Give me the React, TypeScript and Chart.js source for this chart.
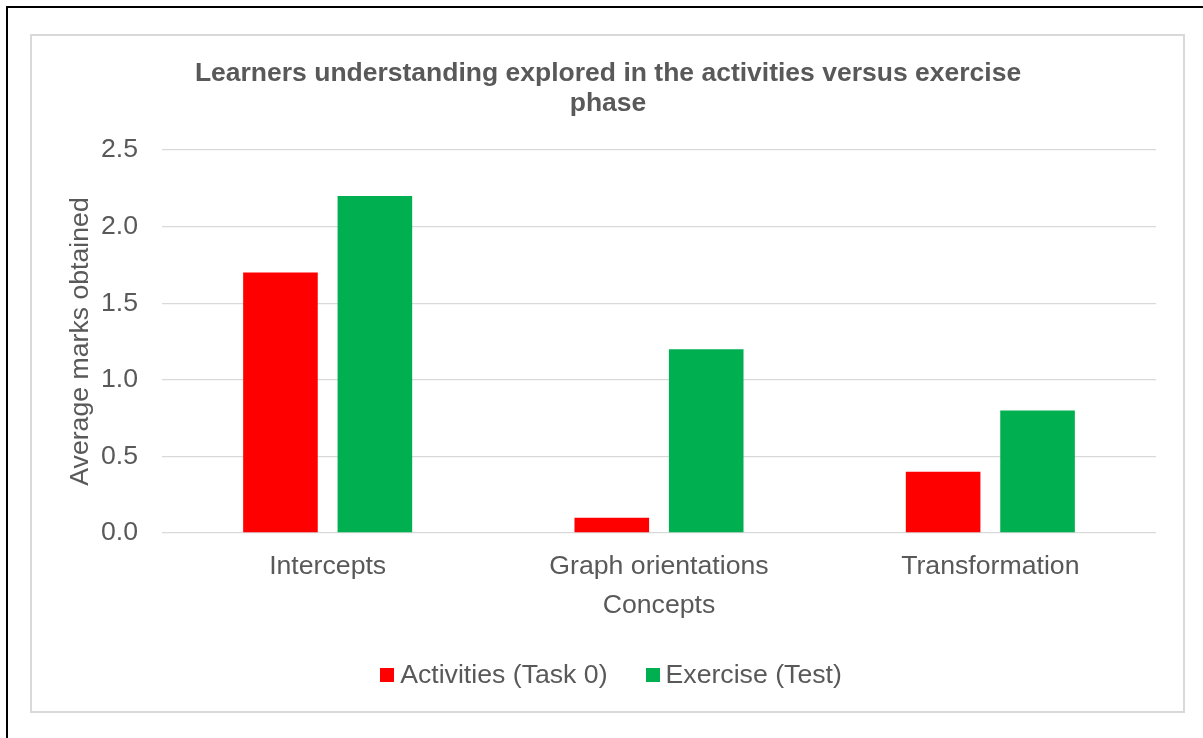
import React, { useEffect, useRef } from "react";
import { Chart, registerables } from "chart.js";

Chart.register(...registerables);

const categories = ["Intercepts", "Graph orientations", "Transformation"];
const activitiesValues = [1.7, 0.1, 0.4];
const exerciseValues = [2.2, 1.2, 0.8];
const seriesLabels = ["Activities (Task 0)", "Exercise (Test)"];
const seriesColors = ["#FF0000", "#00B050"];
const titleLines = [
  "Learners understanding explored in the activities versus exercise",
  "phase",
];
const yAxisTitle = "Average marks obtained";
const xAxisTitle = "Concepts";

const FONT = "'Liberation Sans', Arial, sans-serif";
const TEXT = "#595959";
const GRID = "#d9d9d9";
const FS = 26.67;

const legendPlugin = {
  id: "customLegend",
  afterDraw(chart: any) {
    const ctx = chart.ctx;
    const ds = chart.data.datasets;
    const box = 14;
    const gap = 6;
    const itemGap = 38;
    ctx.save();
    ctx.font = `${FS}px ${FONT}`;
    const widths = ds.map((d: any) => ctx.measureText(d.label).width);
    let total = 0;
    widths.forEach((w: number, i: number) => {
      total += box + gap + w + (i < widths.length - 1 ? itemGap : 0);
    });
    const cx = 611;
    const cy = 675;
    let x = cx - total / 2;
    ctx.textBaseline = "middle";
    ctx.textAlign = "left";
    ds.forEach((d: any, i: number) => {
      ctx.fillStyle = d.backgroundColor;
      ctx.fillRect(Math.round(x), cy - box / 2, box, box);
      ctx.fillStyle = TEXT;
      ctx.fillText(d.label, x + box + gap, cy + 1);
      x += box + gap + widths[i] + itemGap;
    });
    ctx.restore();
  },
};

export default function App() {
  const ref = useRef<HTMLCanvasElement>(null);
  useEffect(() => {
    if (!ref.current) return;
    const chart = new Chart(ref.current, {
      type: "bar",
      data: {
        labels: categories,
        datasets: [
          {
            label: seriesLabels[0],
            data: activitiesValues,
            backgroundColor: seriesColors[0],
            categoryPercentage: 0.57,
            barPercentage: 0.79,
          },
          {
            label: seriesLabels[1],
            data: exerciseValues,
            backgroundColor: seriesColors[1],
            categoryPercentage: 0.57,
            barPercentage: 0.79,
          },
        ],
      },
      options: {
        responsive: false,
        animation: false,
        devicePixelRatio: 1,
        layout: { padding: { left: 60, right: 47, top: 40, bottom: 116.4 } },
        plugins: {
          legend: { display: false },
          tooltip: { enabled: false },
          title: {
            display: true,
            text: titleLines,
            color: TEXT,
            font: { family: FONT, size: 26.5, weight: "bold", lineHeight: "30px" },
            padding: { top: 19, bottom: 31 },
          },
        },
        scales: {
          x: {
            grid: { display: false, drawTicks: false },
            border: { display: false },
            afterFit: (s: any) => {
              s.height = 88.6;
            },
            ticks: {
              color: TEXT,
              font: { family: FONT, size: FS },
              padding: 18,
              maxRotation: 0,
            },
            title: {
              display: true,
              text: xAxisTitle,
              color: TEXT,
              font: { family: FONT, size: FS },
              padding: { top: 5, bottom: 0 },
            },
          },
          y: {
            min: 0,
            max: 2.5,
            afterFit: (s: any) => {
              s.width = 102;
            },
            grid: { color: GRID, lineWidth: 1.3, drawTicks: false },
            border: { display: false },
            ticks: {
              stepSize: 0.5,
              color: TEXT,
              font: { family: FONT, size: FS },
              padding: 24,
              callback: (v: any) => Number(v).toFixed(1),
            },
            title: {
              display: true,
              text: yAxisTitle,
              color: TEXT,
              font: { family: FONT, size: FS },
              padding: { top: 5, bottom: 5 },
            },
          },
        },
      },
      plugins: [legendPlugin],
    });
    return () => chart.destroy();
  }, []);

  return (
    <div
      style={{
        position: "fixed",
        left: 0,
        top: 0,
        width: 1203,
        height: 738,
        background: "#fff",
        overflow: "hidden",
      }}
    >
      <div
        style={{
          position: "absolute",
          left: 6,
          top: 6,
          width: 1300,
          height: 800,
          borderTop: "2px solid #000",
          borderLeft: "2px solid #000",
        }}
      />
      <div
        style={{
          position: "absolute",
          left: 30,
          top: 34,
          width: 1155,
          height: 679,
          boxSizing: "border-box",
          border: `2px solid ${GRID}`,
        }}
      />
      <canvas
        ref={ref}
        width={1203}
        height={738}
        style={{ position: "absolute", left: 0, top: 0, width: 1203, height: 738 }}
      />
    </div>
  );
}
